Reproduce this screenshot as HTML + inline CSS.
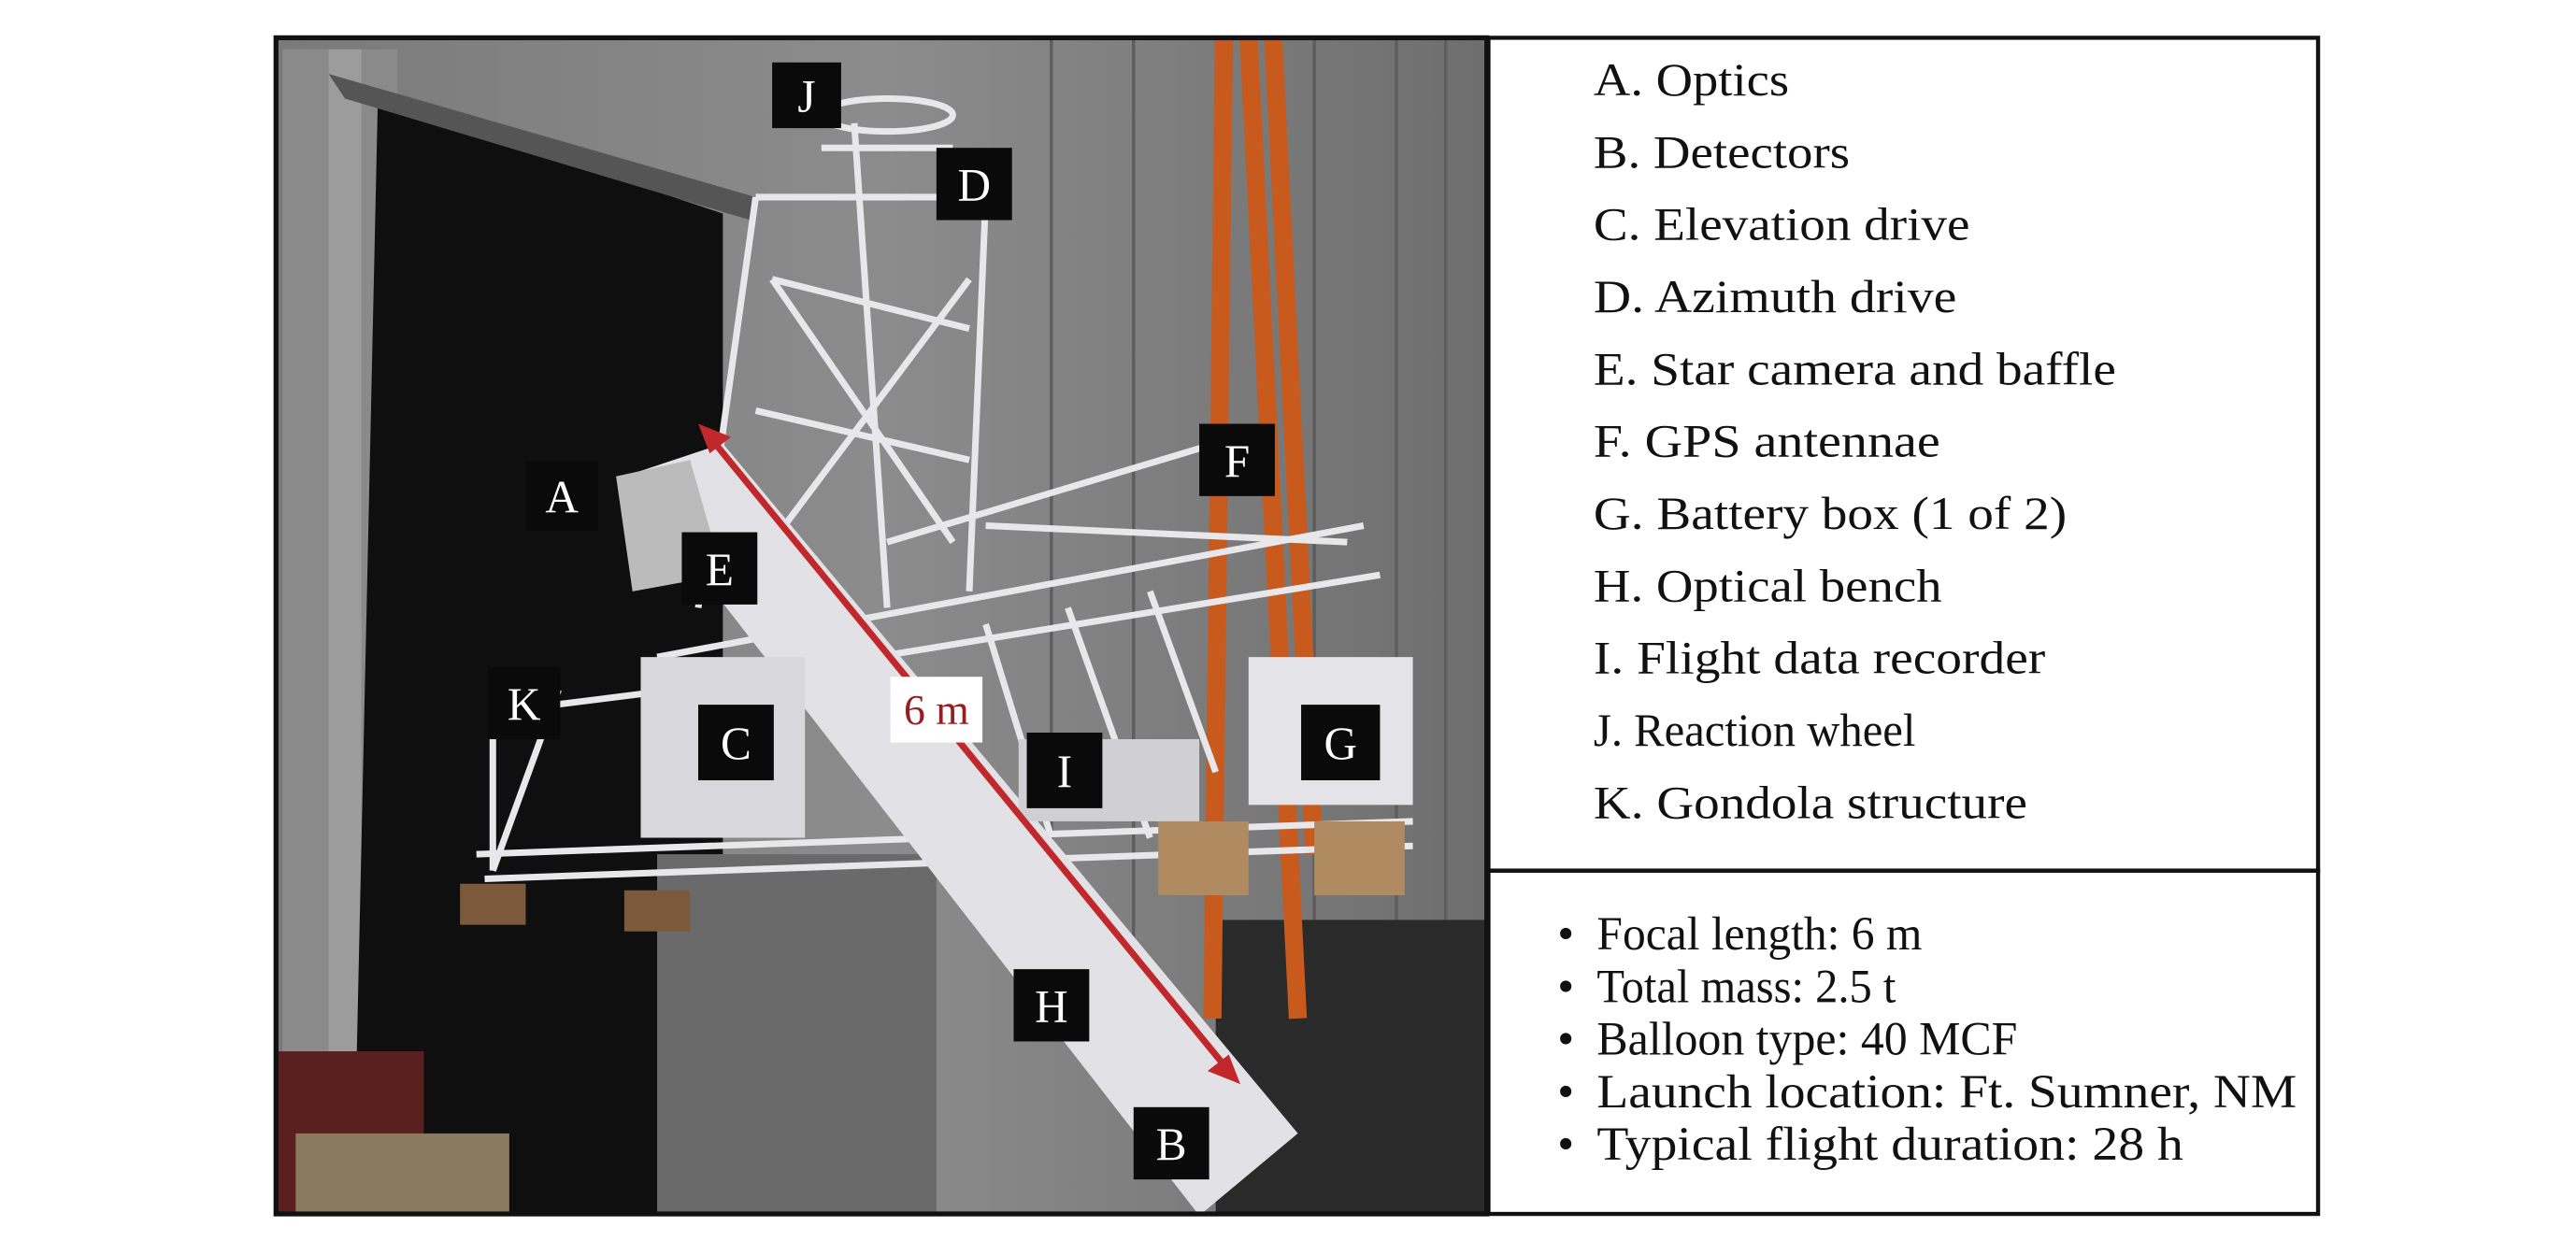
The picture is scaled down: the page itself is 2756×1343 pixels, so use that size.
<!DOCTYPE html>
<html><head><meta charset="utf-8"><style>
html,body{margin:0;padding:0;background:#fff;}
svg{display:block;}
text{font-family:"Liberation Serif",serif;}
</style></head><body>
<svg width="2756" height="1343" viewBox="0 0 1568 764" preserveAspectRatio="none">
<defs>
<linearGradient id="wall" x1="0" y1="0" x2="1" y2="0">
<stop offset="0" stop-color="#7a7a7a"/><stop offset="0.5" stop-color="#8c8c8c"/><stop offset="1" stop-color="#6e6e6e"/>
</linearGradient>
<clipPath id="ph"><rect x="168" y="23" width="737" height="716"/></clipPath>
</defs>
<rect width="1568" height="764" fill="#fff"/>
<g clip-path="url(#ph)">
<rect x="168" y="23" width="737" height="716" fill="url(#wall)"/>
<!-- vertical wall panel lines -->
<g stroke="#5e5e5e" stroke-width="2">
<line x1="640" y1="23" x2="640" y2="600"/><line x1="690" y1="23" x2="690" y2="600"/>
<line x1="800" y1="23" x2="800" y2="600"/><line x1="850" y1="23" x2="850" y2="600"/>
<line x1="880" y1="23" x2="880" y2="600"/>
</g>
<!-- left pillar -->
<rect x="172" y="30" width="70" height="709" fill="#8a8a8a"/>
<rect x="200" y="30" width="20" height="709" fill="#9c9c9c"/>
<!-- dark doorway -->
<polygon points="230,60 440,130 440,740 215,740" fill="#0f0f0f"/>
<polygon points="200,45 460,120 460,135 210,60" fill="#555"/>
<!-- lower floor area -->
<rect x="400" y="520" width="170" height="220" fill="#6a6a6a"/>
<rect x="740" y="560" width="165" height="180" fill="#2a2a2a"/>
<rect x="168" y="640" width="90" height="100" fill="#5a2020"/>
<rect x="180" y="690" width="130" height="49" fill="#8a7a60"/>
<!-- orange tower -->
<g stroke="#c85a1e" stroke-width="11">
<line x1="745" y1="23" x2="738" y2="620"/><line x1="760" y1="23" x2="790" y2="620"/>
<line x1="775" y1="23" x2="800" y2="520"/>
</g>
<!-- white truss top -->
<g stroke="#e8e8ec" stroke-width="4" fill="none">
<line x1="460" y1="120" x2="425" y2="370"/><line x1="520" y1="75" x2="540" y2="370"/>
<line x1="600" y1="120" x2="590" y2="360"/><line x1="460" y1="120" x2="600" y2="120"/>
<line x1="470" y1="170" x2="590" y2="200"/><line x1="460" y1="250" x2="590" y2="280"/>
<line x1="470" y1="170" x2="580" y2="330"/><line x1="590" y1="170" x2="470" y2="330"/>
<line x1="500" y1="90" x2="580" y2="90"/>
<ellipse cx="540" cy="70" rx="40" ry="10"/>
<!-- horizontal frame -->
<line x1="400" y1="400" x2="830" y2="320"/><line x1="410" y1="420" x2="840" y2="350"/>
<line x1="290" y1="520" x2="860" y2="500"/><line x1="295" y1="535" x2="860" y2="515"/>
<line x1="300" y1="440" x2="300" y2="530"/><line x1="340" y1="420" x2="300" y2="530"/>
<line x1="330" y1="430" x2="410" y2="420"/>
<line x1="600" y1="380" x2="640" y2="510"/><line x1="650" y1="370" x2="700" y2="510"/>
<line x1="700" y1="360" x2="740" y2="470"/><line x1="540" y1="330" x2="740" y2="270"/>
<line x1="600" y1="320" x2="820" y2="330"/>
</g>
<!-- optics tube -->
<polygon points="380,290 440,270 790,690 730,740" fill="#e2e2e6"/>
<polygon points="375,290 420,280 440,350 385,360" fill="#bbb"/>
<!-- boxes -->
<rect x="390" y="400" width="100" height="110" fill="#d8d8dc"/>
<rect x="760" y="400" width="100" height="90" fill="#e4e4e8"/>
<rect x="620" y="450" width="110" height="50" fill="#d0d0d4"/>
<rect x="705" y="500" width="55" height="45" fill="#b08a60"/>
<rect x="800" y="500" width="55" height="45" fill="#b08a60"/>
<rect x="280" y="538" width="40" height="25" fill="#7a5a3a"/>
<rect x="380" y="542" width="40" height="25" fill="#7a5a3a"/>
<!-- red arrow -->
<line x1="432" y1="266" x2="748" y2="652" stroke="#c0282c" stroke-width="4"/>
<polygon points="425,258 445,266 432,276" fill="#c0282c"/>
<polygon points="755,660 735,652 748,642" fill="#c0282c"/>
</g>
<!-- labels -->
<g fill="#0a0a0a">
<rect x="470" y="38" width="42" height="40"/><rect x="570" y="90" width="46" height="44"/>
<rect x="320" y="281" width="44" height="42"/><rect x="415" y="324" width="46" height="44"/>
<rect x="730" y="258" width="46" height="44"/><rect x="297" y="406" width="44" height="44"/>
<rect x="425" y="429" width="46" height="46"/><rect x="625" y="446" width="46" height="46"/>
<rect x="792" y="429" width="48" height="46"/><rect x="617" y="590" width="46" height="44"/>
<rect x="690" y="674" width="46" height="44"/>
</g>
<g fill="#fff" font-size="28" text-anchor="middle">
<text x="491" y="68">J</text><text x="593" y="122">D</text><text x="342" y="312">A</text>
<text x="438" y="356">E</text><text x="753" y="290">F</text><text x="319" y="438">K</text>
<text x="448" y="462">C</text><text x="648" y="479">I</text><text x="816" y="462">G</text>
<text x="640" y="622">H</text><text x="713" y="706">B</text>
</g>
<rect x="542" y="412" width="56" height="40" fill="#fff"/>
<text x="570" y="441" fill="#9a1c20" font-size="26" text-anchor="middle">6 m</text>
<!-- frames -->
<rect x="168" y="23" width="737" height="716" fill="none" stroke="#111" stroke-width="3"/>
<rect x="906" y="23" width="505" height="507" fill="none" stroke="#111" stroke-width="2.5"/>
<rect x="906" y="530" width="505" height="209" fill="none" stroke="#111" stroke-width="2.5"/>
<g fill="#111" font-size="28">
<text x="970" y="58" textLength="119" lengthAdjust="spacingAndGlyphs">A. Optics</text>
<text x="970" y="102" textLength="156" lengthAdjust="spacingAndGlyphs">B. Detectors</text>
<text x="970" y="146" textLength="229" lengthAdjust="spacingAndGlyphs">C. Elevation drive</text>
<text x="970" y="190" textLength="221" lengthAdjust="spacingAndGlyphs">D. Azimuth drive</text>
<text x="970" y="234" textLength="318" lengthAdjust="spacingAndGlyphs">E. Star camera and baffle</text>
<text x="970" y="278" textLength="211" lengthAdjust="spacingAndGlyphs">F. GPS antennae</text>
<text x="970" y="322" textLength="288" lengthAdjust="spacingAndGlyphs">G. Battery box (1 of 2)</text>
<text x="970" y="366" textLength="212" lengthAdjust="spacingAndGlyphs">H. Optical bench</text>
<text x="970" y="410" textLength="275" lengthAdjust="spacingAndGlyphs">I. Flight data recorder</text>
<text x="970" y="454" textLength="196" lengthAdjust="spacingAndGlyphs">J. Reaction wheel</text>
<text x="970" y="498" textLength="264" lengthAdjust="spacingAndGlyphs">K. Gondola structure</text>
</g>
<g fill="#111" font-size="29">
<text x="948" y="578">•</text><text x="972" y="578" textLength="198" lengthAdjust="spacingAndGlyphs">Focal length: 6 m</text>
<text x="948" y="610">•</text><text x="972" y="610" textLength="182" lengthAdjust="spacingAndGlyphs">Total mass: 2.5 t</text>
<text x="948" y="642">•</text><text x="972" y="642" textLength="256" lengthAdjust="spacingAndGlyphs">Balloon type: 40 MCF</text>
<text x="948" y="674">•</text><text x="972" y="674" textLength="426" lengthAdjust="spacingAndGlyphs">Launch location: Ft. Sumner, NM</text>
<text x="948" y="706">•</text><text x="972" y="706" textLength="357" lengthAdjust="spacingAndGlyphs">Typical flight duration: 28 h</text>
</g>
</svg>
</body></html>
